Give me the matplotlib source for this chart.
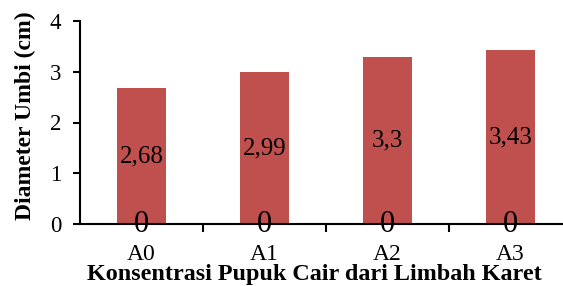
import matplotlib
matplotlib.use("Agg")
from matplotlib import pyplot as plt
import numpy as np

# data
categories = ["A0", "A1", "A2", "A3"]
diameter = [2.68, 2.99, 3.3, 3.43]
labels = ["2,68", "2,99", "3,3", "3,43"]
zero_series = [0, 0, 0, 0]

plt.rcParams['font.family'] = ['Liberation Serif', 'DejaVu Serif']

fig = plt.figure(figsize=(5.63, 2.86), dpi=100)
# axes runs past the right edge, as in the reference
ax = fig.add_axes([80 / 563, 62 / 286, 492 / 563, 203 / 286])

x = np.arange(len(categories))
bars = ax.bar(x, diameter, width=0.4, color="#C0504D")
ax.bar_label(bars, labels=labels, label_type="center", fontsize=18)

zeros = ax.bar(x, zero_series, width=0.4, color="#C0504D")
ax.bar_label(zeros, labels=["0"] * 4, label_type="center", fontsize=22)

ax.set_xlim(-0.5, len(categories) - 0.5)
ax.set_ylim(0, 4)
ax.set_yticks([0, 1, 2, 3, 4])
ax.tick_params(axis="y", labelsize=16.5, width=1.5, length=5, pad=8.5,
               direction="out")

# category labels at centres, tick marks between categories
ax.set_xticks(x)
ax.set_xticklabels(categories, fontsize=17)
ax.tick_params(axis="x", which="major", length=0, pad=14.5)
ax.set_xticks(np.arange(0.5, len(categories) - 0.5, 1), minor=True)
ax.tick_params(axis="x", which="minor", length=6, width=1.5, direction="out")

for side in ["top", "right"]:
    ax.spines[side].set_visible(False)
for side in ["left", "bottom"]:
    ax.spines[side].set_linewidth(1.5)

ax.set_ylabel("Diameter Umbi (cm)", fontsize=17, fontweight="bold")
ax.yaxis.set_label_coords(-44 / 492, 108 / 203)
ax.set_xlabel("Konsentrasi Pupuk Cair dari Limbah Karet", fontsize=17.4,
              fontweight="bold")
ax.xaxis.set_label_coords(234 / 492, -40 / 203)

fig.savefig("out.png", dpi=100)
